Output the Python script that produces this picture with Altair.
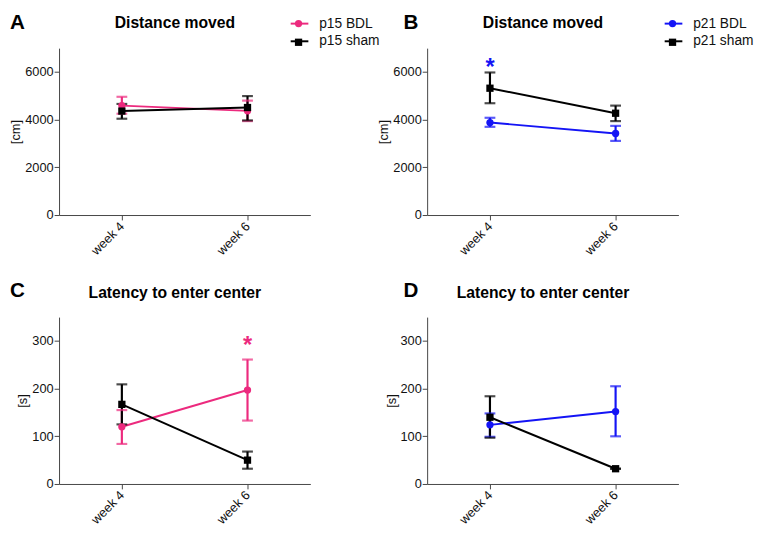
import altair as alt
import pandas as pd

PINK = "#EC2A7E"
BLUE = "#1414F5"
BLACK = "#000000"

weeks = ["week 4", "week 6"]

# Panel A: Distance moved, p15
a_groups = ["p15 BDL", "p15 sham"]
a_mean = {"p15 BDL": [4590, 4370], "p15 sham": [4360, 4510]}
a_lo = {"p15 BDL": [4250, 3940], "p15 sham": [4040, 3970]}
a_hi = {"p15 BDL": [4960, 4800], "p15 sham": [4660, 4990]}

# Panel B: Distance moved, p21
b_groups = ["p21 BDL", "p21 sham"]
b_mean = {"p21 BDL": [3880, 3420], "p21 sham": [5320, 4270]}
b_lo = {"p21 BDL": [3700, 3110], "p21 sham": [4690, 3940]}
b_hi = {"p21 BDL": [4080, 3740], "p21 sham": [5980, 4590]}
b_star = {"week": ["week 4"], "value": [6380]}

# Panel C: Latency to enter center, p15
c_mean = {"p15 BDL": [120, 197], "p15 sham": [167, 50]}
c_lo = {"p15 BDL": [84, 133], "p15 sham": [125, 32]}
c_hi = {"p15 BDL": [155, 261], "p15 sham": [209, 68]}
c_star = {"week": ["week 6"], "value": [300]}

# Panel D: Latency to enter center, p21
d_mean = {"p21 BDL": [124, 152], "p21 sham": [140, 32]}
d_lo = {"p21 BDL": [99, 100], "p21 sham": [97, 32]}
d_hi = {"p21 BDL": [148, 205], "p21 sham": [184, 32]}

FONT = "Liberation Sans"
ZW = "\u200b"  # marker-legend key suffix (keeps the two legends separate)
W, H = 256, 170


def make_df(groups, mean, lo, hi):
    rows = []
    for g in groups:
        for i, w in enumerate(weeks):
            rows.append({"group": g, "gkey": g + ZW, "week": w,
                         "mean": mean[g][i], "lo": lo[g][i], "hi": hi[g][i]})
    return pd.DataFrame(rows)


def panel(letter, title, groups, mean, lo, hi, color, ydomain, yticks, ytitle,
          show_legend, legend_x, letter_x, letter_y, title_y, star=None):
    df = make_df(groups, mean, lo, hi)
    rng = [color, BLACK]
    sc = alt.Scale(domain=groups, range=rng)
    sc_key = alt.Scale(domain=[g + ZW for g in groups], range=rng)
    x = alt.X("week:N", sort=weeks,
              scale=alt.Scale(type="point", padding=0.5),
              axis=alt.Axis(title=None, labelAngle=-45, labelAlign="right",
                            labelBaseline="middle", labelFontSize=13,
                            labelFont=FONT, labelColor="#111", tickSize=5,
                            tickColor="#444", domainColor="#444",
                            labelPadding=4))
    y = alt.Y("mean:Q",
              scale=alt.Scale(domain=ydomain, nice=False, zero=True),
              axis=alt.Axis(title=ytitle, values=yticks, grid=False,
                            format="d",
                            labelFontSize=13, labelFont=FONT, labelColor="#111",
                            tickSize=5, tickColor="#444", domainColor="#444",
                            titleFont=FONT, titleFontSize=13,
                            titleFontWeight="normal", titleColor="#111",
                            titlePadding=2, labelPadding=1))
    base = alt.Chart(df)

    if show_legend:
        stroke_leg = alt.Legend(title=None, orient="none", legendX=legend_x,
                                legendY=-35, symbolType="stroke",
                                symbolSize=324, symbolStrokeWidth=2,
                                labelFont=FONT, labelFontSize=14,
                                labelColor="#111", labelOffset=10,
                                rowPadding=1)
        fill_leg = alt.Legend(title=None, orient="none",
                              legendX=legend_x + 5, legendY=-29,
                              symbolSize=55, labelExpr="''",
                              labelFontSize=1, rowPadding=11,
                              symbolStrokeWidth=0)
    else:
        stroke_leg = None
        fill_leg = None

    line = base.mark_line(strokeWidth=2).encode(
        x=x, y=y,
        stroke=alt.Stroke("group:N", scale=sc, legend=stroke_leg),
        detail="group:N")
    rule = base.mark_rule(strokeWidth=2.2).encode(
        x=x, y=alt.Y("lo:Q"), y2="hi:Q",
        color=alt.Color("group:N", scale=sc, legend=None))
    cap_lo = base.mark_tick(thickness=2.2, size=11, orient="horizontal").encode(
        x=x, y=alt.Y("lo:Q"),
        color=alt.Color("group:N", scale=sc, legend=None))
    cap_hi = base.mark_tick(thickness=2.2, size=11, orient="horizontal").encode(
        x=x, y=alt.Y("hi:Q"),
        color=alt.Color("group:N", scale=sc, legend=None))
    pts = base.mark_point(filled=True, opacity=1, size=55).encode(
        x=x, y=y,
        fill=alt.Fill("gkey:N", scale=sc_key, legend=fill_leg),
        shape=alt.Shape("gkey:N",
                        scale=alt.Scale(domain=[g + ZW for g in groups],
                                        range=["circle", "square"]),
                        legend=fill_leg))
    letter_df = pd.DataFrame({"t": [letter]})
    lab = alt.Chart(letter_df).mark_text(
        font=FONT, fontSize=21, fontWeight="bold", align="left",
        baseline="alphabetic", color="#000").encode(
        text="t:N", x=alt.value(letter_x), y=alt.value(letter_y))
    title_df = pd.DataFrame({"t": [title]})
    ttl = alt.Chart(title_df).mark_text(
        font=FONT, fontSize=16, fontWeight="bold", align="center",
        baseline="alphabetic", color="#000").encode(
        text="t:N", x=alt.value(W / 2 - 10), y=alt.value(title_y))

    layers = [line, rule, cap_lo, cap_hi, pts, lab, ttl]
    if star is not None:
        sdf = pd.DataFrame(star)
        st = alt.Chart(sdf).mark_text(
            text="*", font=FONT, fontSize=24, fontWeight="bold",
            color=color, baseline="middle", dy=5).encode(
            x=alt.X("week:N", sort=weeks), y=alt.Y("value:Q"))
        layers.append(st)

    return alt.layer(*layers).properties(width=W, height=H)


pA = panel("A", "Distance moved", a_groups, a_mean, a_lo, a_hi, PINK,
           [0, 7000], [0, 2000, 4000, 6000], "[cm]", True, 235, -50, -20, -21)
pB = panel("B", "Distance moved", b_groups, b_mean, b_lo, b_hi, BLUE,
           [0, 7000], [0, 2000, 4000, 6000], "[cm]", True, 241, -24, -20, -21,
           star=b_star)
pC = panel("C", "Latency to enter center", a_groups, c_mean, c_lo, c_hi, PINK,
           [0, 350], [0, 100, 200, 300], "[s]", False, 0, -50, -20, -19,
           star=c_star)
pD = panel("D", "Latency to enter center", b_groups, d_mean, d_lo, d_hi, BLUE,
           [0, 350], [0, 100, 200, 300], "[s]", False, 0, -24, -20, -19)

chart = alt.concat(
    pA, pB, pC, pD, columns=2,
    spacing=alt.RowColnumber(row=104, column=119), bounds="flush"
).resolve_scale(
    x="independent", y="independent", color="independent",
    stroke="independent", fill="independent", shape="independent"
).resolve_legend(
    stroke="independent", fill="independent", shape="independent"
).configure(
    padding={"left": 2, "top": -1, "right": 0, "bottom": 0},
    background="white"
).configure_view(stroke=None)

chart.save("out.html", embed_options={"renderer": "svg", "actions": False})
